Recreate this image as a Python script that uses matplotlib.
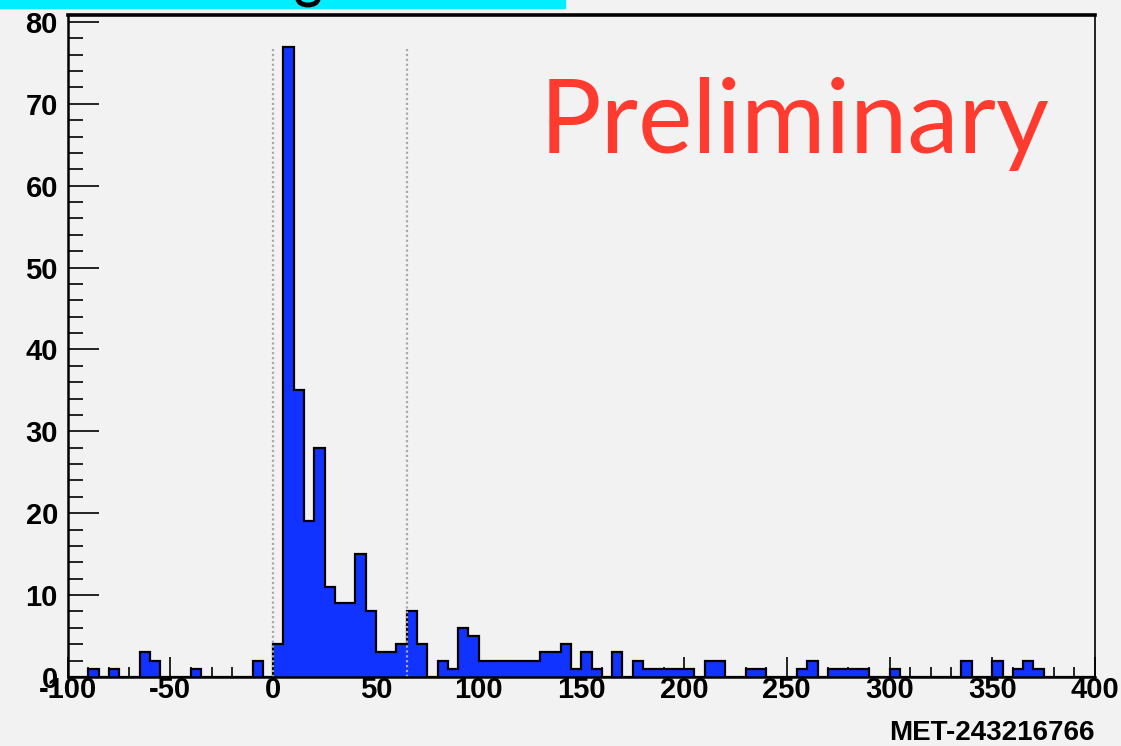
import numpy as np
import matplotlib.pyplot as plt
from matplotlib.ticker import MultipleLocator
from matplotlib.patches import Rectangle, Arc

# MET histogram, 5 GeV bins from -100 to 400
bin_lo, bin_hi, bin_w = -100, 400, 5
counts = [
    0, 0, 1, 0, 1, 0, 0, 3, 2, 0,      # -100 .. -50
    0, 0, 1, 0, 0, 0, 0, 0, 2, 0,      # -50 .. 0
    4, 77, 35, 19, 28, 11, 9, 9, 15, 8,  # 0 .. 50
    3, 3, 4, 8, 4, 0, 2, 1, 6, 5,      # 50 .. 100
    2, 2, 2, 2, 2, 2, 3, 3, 4, 1,      # 100 .. 150
    3, 1, 0, 3, 0, 2, 1, 1, 1, 1,      # 150 .. 200
    1, 0, 2, 2, 0, 0, 1, 1, 0, 0,      # 200 .. 250
    0, 1, 2, 0, 1, 1, 1, 1, 0, 0,      # 250 .. 300
    1, 0, 0, 0, 0, 0, 0, 2, 0, 0,      # 300 .. 350
    2, 0, 1, 2, 1, 0, 0, 0, 0, 0,      # 350 .. 400
]
cut_lines = [0, 65]
x_label = "MET-243216766"
stamp = "Preliminary"

edges = np.arange(bin_lo, bin_hi + bin_w, bin_w)
bg = "#f2f2f2"

plt.rcParams['font.family'] = ['Liberation Sans', 'DejaVu Sans']
plt.rcParams['axes.unicode_minus'] = False

fig = plt.figure(figsize=(11.21, 7.46), dpi=100, facecolor=bg)
ax = fig.add_axes([0.0604, 0.0925, 0.9164, 0.8874], facecolor=bg)

ax.stairs(counts, edges, fill=True, color="#1133ff", zorder=2)
ax.stairs(counts, edges, baseline=0, color="black", lw=1.6, zorder=3)

for xc in cut_lines:
    ax.plot([xc, xc], [0, max(counts)], ls=(0, (1, 1.2)), color="#a8a8a8",
            lw=1.6, zorder=4)

ax.set_xlim(bin_lo, bin_hi)
ax.set_ylim(0, max(counts) * 1.05)

ax.xaxis.set_major_locator(MultipleLocator(50))
ax.xaxis.set_minor_locator(MultipleLocator(10))
ax.yaxis.set_major_locator(MultipleLocator(10))
ax.yaxis.set_minor_locator(MultipleLocator(2))

ax.tick_params(axis='x', which='major', direction='in', length=14.5, width=1.2, pad=-1)
ax.tick_params(axis='x', which='minor', direction='in', length=7.2, width=1.2)
ax.tick_params(axis='y', which='major', direction='in', length=22, width=1.2, pad=7)
ax.tick_params(axis='y', which='minor', direction='in', length=11, width=1.2)
for lab in ax.get_xticklabels() + ax.get_yticklabels():
    lab.set_fontsize(21)
    lab.set_fontweight('bold')

ax.spines['top'].set_linewidth(2.6)
ax.spines['right'].set_linewidth(1.2)
ax.spines['left'].set_linewidth(1.8)
ax.spines['bottom'].set_linewidth(1.8)
for s in ax.spines.values():
    s.set_zorder(5)

ax.set_xlabel(x_label, fontsize=20, fontweight='bold', loc='right', va='center')
ax.xaxis.set_label_coords(1.0, -0.085)

# red stamp across the upper right
fig.text(540 / 1121, 1 - 153 / 746, stamp, fontsize=74, color="#ff3b30",
         family='Lato', va='baseline', ha='left')

# slide header strip cut off at the top, with the tail of a letter showing
fig.patches.append(Rectangle((0, 1 - 7.5 / 746), 565 / 1121, 7.5 / 746,
                             transform=fig.transFigure, color="#00eeff", zorder=0))
fig.patches.append(Arc((308 / 1121, 1 + 1 / 746), 20 / 1121, 12 / 746,
                       theta1=180, theta2=360, transform=fig.transFigure,
                       color="black", lw=3.5, zorder=1))

fig.savefig("out.png", dpi=100, facecolor=bg)
